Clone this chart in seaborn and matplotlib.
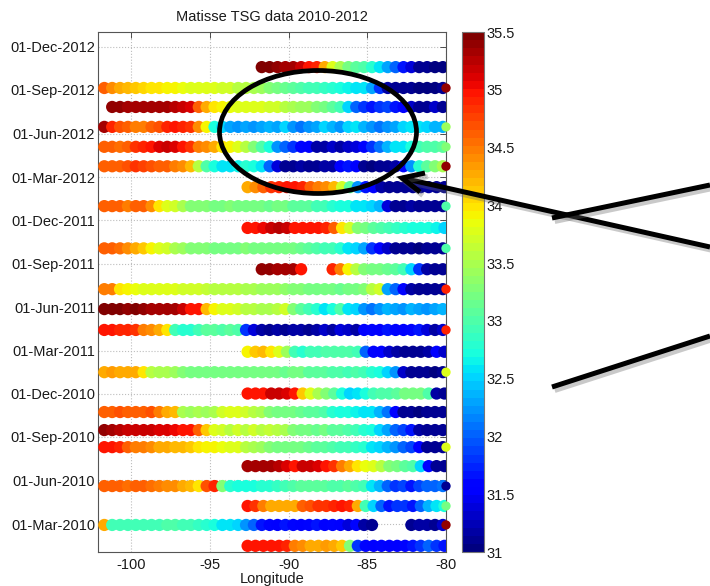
import numpy as np
import pandas as pd
import matplotlib
matplotlib.use("Agg")
import matplotlib.pyplot as plt
import matplotlib.dates as mdates
import matplotlib.patheffects as pe
from matplotlib.patches import Ellipse
from matplotlib.lines import Line2D
from matplotlib.ticker import FormatStrFormatter
import seaborn as sns

# ---------------------------------------------------------------------------
# Thermosalinograph transects: each crossing has a date, a starting longitude
# and sea-surface salinity sampled every LON_STEP degrees eastward.
# ---------------------------------------------------------------------------
LON_STEP = 0.5
LON_WEST = -101.7      # crossings that start at the western end
LON_MID = -92.6        # crossings that start mid-way
LON_MID2 = -91.7
nan = np.nan

SAL_2012_10_19 = [35.45, 35.45, 35.4, 35.35, 35.3, 35.2, 35.0, 34.9, 34.3, 33.8, 33.5, 33.2,
                  33.1, 33.0, 32.8, 32.6, 32.3, 32.0, 31.7, 31.4, 31.1, 31.1, 31.05, 31.05]
SAL_2012_09_05 = [34.6, 34.4, 34.3, 34.2, 34.1, 34.05, 34.0, 34.0, 33.95, 33.9, 33.85,
                  33.8, 33.8, 33.8, 33.75, 33.7, 33.7, 33.6, 33.55, 33.5, 33.4, 33.3,
                  33.2, 33.15, 33.1, 33.0, 32.95, 32.9, 32.85, 32.8, 32.7, 32.65, 32.6,
                  32.55, 32.3, 31.8, 31.2, 31.1, 31.1, 31.1, 31.05, 31.05, 31.05, 31.1]
SAL_2012_07_27 = [nan, 35.4, 35.4, 35.35, 35.3, 35.3, 35.35, 35.3, 35.3, 35.25, 35.2,
                  35.1, 34.6, 34.3, 34.0, 33.9, 33.85, 33.8, 33.8, 33.75, 33.75, 33.7,
                  33.7, 33.6, 33.5, 33.45, 33.4, 33.3, 33.2, 33.1, 32.9, 32.5, 32.0,
                  31.8, 31.7, 31.8, 31.9, 31.7, 31.5, 31.3, 31.1, 31.1, 31.3, 31.1]
SAL_2012_06_15 = [35.3, 34.9, 34.7, 34.6, 34.5, 34.5, 34.6, 34.7, 34.9, 35.0, 34.9,
                  34.8, 34.4, 33.9, 32.7, 32.5, 32.3, 32.2, 32.3, 32.2, 32.3, 32.4,
                  32.3, 32.5, 32.2, 32.1, 32.2, 32.3, 32.5, 32.4, 32.2, 32.5, 32.6,
                  32.4, 32.2, 32.1, 32.2, 32.3, 32.5, 32.6, 32.6, 32.5, 32.4, 32.4]
SAL_2012_05_04 = [34.6, 34.6, 34.55, 34.6, 34.8, 34.9, 35.0, 35.1, 35.2, 35.1, 35.0,
                  34.8, 34.5, 34.4, 34.3, 34.0, 33.9, 33.8, 33.6, 33.3, 33.0, 32.7,
                  32.2, 32.0, 31.8, 31.6, 31.5, 31.2, 31.2, 31.3, 31.2, 31.3, 31.4,
                  31.6, 31.8, 32.1, 32.4, 32.6, 32.6, 32.7, 32.9, 33.0, 33.0, 33.1]
SAL_2012_03_24 = [34.6, 34.6, 34.65, 34.7, 34.8, 34.75, 34.7, 34.6, 34.6, 34.5, 34.4,
                  34.2, 33.6, 33.0, 32.7, 32.6, 32.6, 32.65, 32.8, 32.7, 32.6, 32.0,
                  31.4, 31.1, 31.1, 31.15, 31.1, 31.1, 31.15, 31.2, 31.5, 31.7, 31.5,
                  31.1, 31.05, 31.1, 31.1, 31.2, 31.6, 32.2, 32.8, 33.1, 33.3, 33.5]
SAL_2012_02_09 = [34.3, 34.4, 34.6, 34.8, 34.9, 35.0, 35.0, 34.9, 34.6, 34.5, 34.4, 34.2, 33.7,
                  33.1, 32.2, 31.7, 31.5, 31.2, 31.1, 31.1, 31.1, 31.1, 31.1, 31.15, 31.1, 31.1]
SAL_2011_12_31 = [34.6, 34.6, 34.6, 34.5, 34.6, 34.6, 34.4, 34.0, 33.8, 33.7, 33.5,
                  33.3, 33.3, 33.25, 33.2, 33.2, 33.25, 33.2, 33.2, 33.2, 33.2, 33.15,
                  33.2, 33.2, 33.1, 33.1, 33.1, 32.9, 32.9, 32.8, 32.7, 32.7, 32.6,
                  32.55, 32.5, 32.4, 31.4, 31.1, 31.1, 31.15, 31.1, 31.1, 31.1, 31.1]
SAL_2011_11_15 = [34.95, 35.0, 35.05, 35.15, 35.25, 35.2, 35.0, 35.0, 34.95, 34.95, 34.9, 34.6, 34.0,
                  33.7, 33.3, 33.2, 33.1, 33.0, 32.9, 32.85, 32.8, 32.75, 32.7, 32.7, 32.65, 32.5]
SAL_2011_10_03 = [34.6, 34.6, 34.55, 34.4, 34.3, 34.1, 33.9, 33.8, 33.7, 33.5, 33.4,
                  33.3, 33.3, 33.25, 33.2, 33.2, 33.2, 33.2, 33.25, 33.2, 33.2, 33.2,
                  33.2, 33.2, 33.2, 33.15, 33.1, 33.0, 32.9, 32.9, 32.8, 32.6, 32.5,
                  32.3, 31.8, 31.6, 31.3, 31.1, 31.1, 31.1, 31.05, 31.1, 31.1, 31.1]
SAL_2011_08_20 = [35.4, 35.4, 35.35, 35.35, 35.3, 35.0, nan, nan, nan, 34.9, 34.5, 33.9,
                  33.6, 33.3, 33.2, 33.2, 33.15, 33.1, 32.9, 32.5, 31.8, 31.2, 31.1, 31.1]
SAL_2011_07_09 = [34.5, 34.5, 34.0, 33.9, 33.85, 33.8, 33.8, 33.8, 33.75, 33.75, 33.7,
                  33.7, 33.7, 33.65, 33.6, 33.6, 33.6, 33.55, 33.5, 33.5, 33.45, 33.4,
                  33.4, 33.35, 33.3, 33.25, 33.2, 33.2, 33.2, 33.2, 33.15, 33.2, 33.2,
                  33.3, 33.6, 33.7, 32.3, 32.0, 31.6, 31.2, 31.1, 31.1, 31.1, 31.1]
SAL_2011_05_28 = [35.45, 35.45, 35.45, 35.4, 35.45, 35.4, 35.3, 35.3, 35.35, 35.3, 35.2,
                  35.0, 34.95, 34.2, 33.9, 33.8, 33.8, 33.7, 33.6, 33.55, 33.5, 33.5,
                  33.6, 33.7, 33.3, 33.1, 32.9, 32.8, 32.6, 32.7, 33.0, 32.6, 32.5,
                  32.2, 32.1, 32.2, 32.4, 32.3, 32.2, 32.4, 32.3, 32.2, 32.3, 32.4]
SAL_2011_04_14 = [34.95, 34.95, 34.9, 34.9, 34.8, 34.5, 34.4, 34.3, 34.0, 32.9, 32.8,
                  32.8, 32.9, 33.1, 33.1, 33.0, 33.1, 33.0, 31.8, 31.4, 31.2, 31.1,
                  31.15, 31.1, 31.2, 31.15, 31.1, 31.2, 31.3, 31.2, 31.4, 31.3, 31.2,
                  31.5, 31.6, 31.5, 31.7, 31.6, 31.5, 31.6, 31.7, 31.4, 31.2, 31.3]
SAL_2011_02_27 = [33.9, 34.1, 34.2, 34.0, 33.8, 33.4, 32.9, 32.8, 32.9, 32.9, 33.0, 33.0, 33.0,
                  33.0, 32.9, 32.0, 31.6, 31.5, 31.3, 31.15, 31.1, 31.1, 31.1, 31.2, 31.5, 31.3]
SAL_2011_01_15 = [34.3, 34.35, 34.3, 34.25, 34.3, 34.0, 33.6, 33.5, 33.5, 33.4, 33.3,
                  33.2, 33.2, 33.2, 33.2, 33.2, 33.2, 33.2, 33.2, 33.2, 33.2, 33.2,
                  33.2, 33.15, 33.2, 33.2, 33.1, 33.1, 33.1, 33.0, 33.0, 32.95, 33.0,
                  32.9, 32.8, 32.7, 32.5, 32.2, 31.3, 31.1, 31.1, 31.1, 31.05, 31.1]
SAL_2010_12_01 = [34.95, 34.95, 35.0, 35.2, 35.2, 35.1, 35.0, 34.1, 33.8, 33.5, 33.3, 33.1, 32.7,
                  32.5, 32.6, 32.7, 32.9, 33.0, 33.0, 33.1, 33.2, 33.2, 33.2, 33.0, 31.2, 31.1]
SAL_2010_10_23 = [34.6, 34.6, 34.7, 34.6, 34.65, 34.6, 34.7, 34.5, 34.3, 34.2, 33.5,
                  33.4, 33.5, 33.4, 33.5, 33.7, 33.8, 33.8, 33.7, 33.6, 33.5, 33.3,
                  33.2, 33.2, 33.2, 33.15, 33.1, 33.1, 33.0, 32.8, 32.7, 32.7, 32.65,
                  32.6, 32.6, 32.4, 32.1, 31.5, 31.1, 31.1, 31.05, 31.1, 31.1, 31.1]
SAL_2010_09_15 = [35.4, 35.3, 35.25, 35.2, 35.15, 35.2, 35.15, 35.1, 35.1, 35.05, 35.0,
                  34.95, 34.6, 34.1, 33.8, 33.7, 33.6, 33.7, 33.6, 33.7, 33.6, 33.65,
                  33.6, 33.5, 33.3, 33.2, 33.2, 33.15, 33.2, 33.1, 33.1, 33.0, 32.9,
                  32.8, 32.7, 32.5, 32.3, 32.0, 31.9, 31.7, 31.2, 31.1, 31.1, 31.1]
SAL_2010_08_10 = [34.95, 34.95, 34.9, 34.6, 34.5, 34.5, 34.4, 34.3, 34.25, 34.2, 34.2,
                  34.1, 34.0, 33.95, 33.9, 33.85, 33.8, 33.75, 33.6, 33.5, 33.4, 33.3,
                  33.2, 33.2, 33.2, 33.2, 33.15, 33.1, 33.1, 33.0, 32.95, 32.9, 32.85,
                  32.8, 32.6, 32.5, 32.4, 32.2, 32.0, 31.9, 31.5, 31.1, 31.1, 31.1]
SAL_2010_07_01 = [35.3, 35.35, 35.3, 35.3, 35.25, 35.1, 34.95, 35.2, 35.15, 35.1, 34.95, 34.8, 34.5,
                  34.3, 34.0, 33.85, 33.8, 33.6, 33.3, 33.2, 33.1, 33.0, 32.5, 31.5, 31.1, 31.1]
SAL_2010_05_20 = [34.6, 34.6, 34.6, 34.55, 34.6, 34.6, 34.55, 34.5, 34.4, 34.4, 34.3,
                  34.2, 34.0, 34.7, 34.9, 33.3, 32.8, 32.7, 32.7, 32.75, 32.8, 32.8,
                  32.85, 32.9, 33.0, 33.05, 33.1, 33.1, 33.05, 33.0, 33.0, 33.05, 33.0,
                  32.9, 32.6, 32.4, 32.0, 31.8, 31.9, 31.7, 31.9, 32.0, 32.0, 32.1]
SAL_2010_04_08 = [34.95, 34.8, 34.5, 34.3, 34.3, 34.25, 34.3, 34.6, 34.7, 34.8, 34.8, 34.9, 34.95,
                  34.9, 34.3, 32.9, 32.5, 32.0, 31.7, 31.8, 31.8, 31.7, 32.0, 32.4, 32.6, 32.7]
SAL_2010_02_27 = [34.3, 32.9, 32.95, 32.9, 32.9, 32.95, 32.9, 32.9, 33.0, 33.0, 32.95,
                  32.9, 32.85, 32.8, 32.7, 32.6, 32.6, 32.5, 32.2, 32.0, 31.7, 31.6,
                  31.5, 31.7, 31.6, 31.5, 31.6, 31.7, 31.5, 31.6, 31.5, 31.4, 31.6,
                  31.2, 31.1, nan, nan, nan, nan, 31.1, 31.15, 31.2, 31.1, 31.3]
SAL_2010_01_14 = [34.95, 34.95, 35.0, 34.95, 34.95, 34.9, 34.5, 34.4, 34.3, 34.3, 34.35, 34.3, 34.1,
                  33.3, 31.8, 31.6, 31.5, 31.6, 31.5, 31.55, 31.6, 31.7, 31.8, 32.0, 31.8, 31.7]

TRACKS = [
    ("2012-10-19", LON_MID2, SAL_2012_10_19),
    ("2012-09-05", LON_WEST, SAL_2012_09_05),
    ("2012-07-27", LON_WEST, SAL_2012_07_27),
    ("2012-06-15", LON_WEST, SAL_2012_06_15),
    ("2012-05-04", LON_WEST, SAL_2012_05_04),
    ("2012-03-24", LON_WEST, SAL_2012_03_24),
    ("2012-02-09", LON_MID, SAL_2012_02_09),
    ("2011-12-31", LON_WEST, SAL_2011_12_31),
    ("2011-11-15", LON_MID, SAL_2011_11_15),
    ("2011-10-03", LON_WEST, SAL_2011_10_03),
    ("2011-08-20", LON_MID2, SAL_2011_08_20),
    ("2011-07-09", LON_WEST, SAL_2011_07_09),
    ("2011-05-28", LON_WEST, SAL_2011_05_28),
    ("2011-04-14", LON_WEST, SAL_2011_04_14),
    ("2011-02-27", LON_MID, SAL_2011_02_27),
    ("2011-01-15", LON_WEST, SAL_2011_01_15),
    ("2010-12-01", LON_MID, SAL_2010_12_01),
    ("2010-10-23", LON_WEST, SAL_2010_10_23),
    ("2010-09-15", LON_WEST, SAL_2010_09_15),
    ("2010-08-10", LON_WEST, SAL_2010_08_10),
    ("2010-07-01", LON_MID, SAL_2010_07_01),
    ("2010-05-20", LON_WEST, SAL_2010_05_20),
    ("2010-04-08", LON_MID, SAL_2010_04_08),
    ("2010-02-27", LON_WEST, SAL_2010_02_27),
    ("2010-01-14", LON_MID, SAL_2010_01_14),
]

# Harbour readings logged at the eastern end of some crossings
PORT_LON = -80.0
PORT_DATES = ["2012-09-05", "2012-06-15", "2012-05-04", "2012-03-24", "2011-12-31",
              "2011-10-03", "2011-07-09", "2011-04-14", "2011-01-15", "2010-08-10",
              "2010-05-20", "2010-04-08", "2010-02-27"]
PORT_SAL = [35.4, 33.4, 33.3, 35.4, 33.0, 33.0, 34.9, 34.9, 33.8, 33.8, 31.1, 33.2, 35.4]

DATE_TICKS = ["2010-03-01", "2010-06-01", "2010-09-01", "2010-12-01",
              "2011-03-01", "2011-06-01", "2011-09-01", "2011-12-01",
              "2012-03-01", "2012-06-01", "2012-09-01", "2012-12-01"]
LON_TICKS = [-100, -95, -90, -85, -80]
CBAR_TICKS = [31, 31.5, 32, 32.5, 33, 33.5, 34, 34.5, 35, 35.5]
SAL_MIN, SAL_MAX = 31.0, 35.5

# ---------------------------------------------------------------------------
rows = []
for date, lon0, vals in TRACKS:
    vals = np.asarray(vals, dtype=float)
    lons = lon0 + LON_STEP * np.arange(len(vals))
    for lon, s in zip(lons, vals):
        if not np.isnan(s):
            rows.append((lon, pd.Timestamp(date), s))
df = pd.DataFrame(rows, columns=["lon", "date", "sal"])
port = pd.DataFrame({"lon": PORT_LON, "date": pd.to_datetime(PORT_DATES), "sal": PORT_SAL})

sns.set_theme(style="white")
plt.rcParams["font.family"] = ["Liberation Sans", "DejaVu Sans"]
FS = 10.5

W, H = 710, 586
fig = plt.figure(figsize=(W / 100, H / 100), dpi=100)
ax = fig.add_axes([98 / W, 34 / H, 348 / W, 520 / H])
cax = fig.add_axes([462 / W, 34 / H, 22 / W, 520 / H])

cmap = plt.get_cmap("jet", 64)
sns.scatterplot(data=df, x="lon", y="date", hue="sal", palette=cmap,
                hue_norm=(SAL_MIN, SAL_MAX), s=78, linewidth=0, legend=False,
                ax=ax, zorder=3)
sns.scatterplot(data=port, x="lon", y="date", hue="sal", palette=cmap,
                hue_norm=(SAL_MIN, SAL_MAX), s=45, linewidth=0, legend=False,
                ax=ax, zorder=4, clip_on=False)

ax.set_xlim(-102.1, -80)
ax.set_ylim(pd.Timestamp("2010-01-01"), pd.Timestamp("2013-01-01"))
ax.set_xticks(LON_TICKS)
ax.set_xticklabels([str(v) for v in LON_TICKS])
ax.set_yticks(pd.to_datetime(DATE_TICKS))
ax.yaxis.set_major_formatter(mdates.DateFormatter("%d-%b-%Y"))
ax.grid(True, linestyle=":", color="#bdbdbd", linewidth=0.8, zorder=0)
ax.set_axisbelow(True)
ax.tick_params(direction="in", length=4, width=0.6, top=True, right=True,
               labelsize=FS, pad=2, colors="#333333", labelcolor="#1a1a1a")
ax.tick_params(axis="x", pad=4)
for sp in ax.spines.values():
    sp.set_color("#555555")
    sp.set_linewidth(0.8)
ax.set_xlabel("Longitude", fontsize=FS, labelpad=0, color="#1a1a1a")
ax.set_ylabel("")
ax.set_title("Matisse TSG data 2010-2012", fontsize=FS, pad=8, color="#1a1a1a")

sm = plt.cm.ScalarMappable(norm=plt.Normalize(SAL_MIN, SAL_MAX), cmap=cmap)
cb = fig.colorbar(sm, cax=cax, ticks=CBAR_TICKS)
cb.ax.yaxis.set_major_formatter(FormatStrFormatter("%g"))
cb.outline.set_edgecolor("#777777")
cb.outline.set_linewidth(0.8)
cax.tick_params(direction="in", length=3, width=0.6, left=True, right=True,
                labelsize=FS, pad=2, colors="#333333", labelcolor="#1a1a1a")


# ---------------------------------------------------------------------------
# Highlight ellipse and pointer lines (figure pixel coordinates, y from top)
def fp(x, y):
    return (x / W, 1 - y / H)


shadow = [pe.SimpleLineShadow(offset=(2, -2.5), alpha=0.35, shadow_color="#666666"),
          pe.Normal()]

fig.add_artist(Ellipse(fp(318, 132), 197 / W, 123 / H, transform=fig.transFigure,
                       fill=False, ec="black", lw=3.4, zorder=10))

pointer_lines = [
    [(402, 178), (710, 247)],
    [(552, 218), (710, 185)],
    [(552, 387), (710, 336)],
    [(425, 173), (402, 178), (420, 192)],
]
for pts in pointer_lines:
    xs, ys = zip(*[fp(*p) for p in pts])
    ln = Line2D(xs, ys, transform=fig.transFigure, color="black", lw=3.6,
                solid_capstyle="butt", solid_joinstyle="miter", zorder=11)
    ln.set_path_effects(shadow)
    fig.add_artist(ln)

fig.savefig("out.png", dpi=100)
